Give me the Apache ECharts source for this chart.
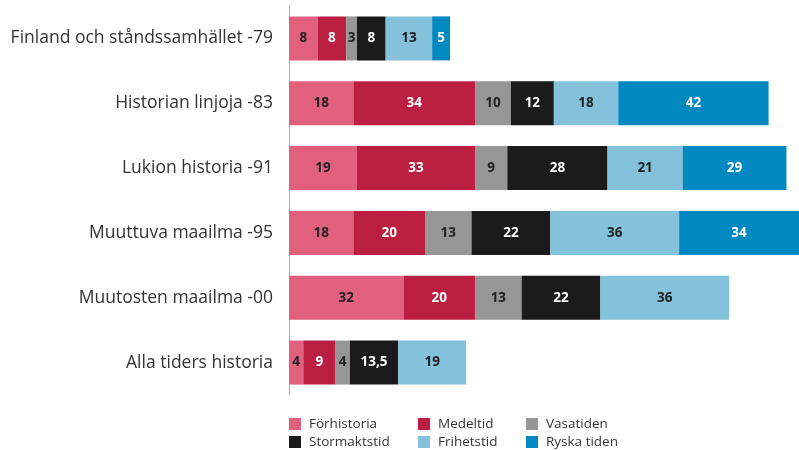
<!DOCTYPE html>
<html><head><meta charset="utf-8">
<script src="https://cdn.jsdelivr.net/npm/echarts@6/dist/echarts.min.js"></script>
<style>html,body{margin:0;padding:0;background:#fff}#c{width:799px;height:450px}</style>
</head><body><div id="c"></div>
<script>
const categories = ['Finland och ståndssamhället -79','Historian linjoja -83','Lukion historia -91','Muuttuva maailma -95','Muutosten maailma -00','Alla tiders historia'];
const seriesNames = ['Förhistoria','Medeltid','Vasatiden','Stormaktstid','Frihetstid','Ryska tiden'];
const forhistoria = [8,18,19,18,32,4];
const medeltid = [8,34,33,20,20,9];
const vasatiden = [3,10,9,13,13,4];
const stormaktstid = [8,12,28,22,22,13.5];
const frihetstid = [13,18,21,36,36,19];
const ryskaTiden = [5,42,29,34,null,null];
const values = [forhistoria,medeltid,vasatiden,stormaktstid,frihetstid,ryskaTiden];
const colors = ['#E0607E','#BA1F42','#959695','#1B1B1B','#83C2DA','#0088C1'];
const labelColors = ['#222','#fff','#222','#fff','#222','#fff'];
const legendPos = [[289,417],[418,417],[526,417],[289,435],[418,435],[526,435]];

const chart = echarts.init(document.getElementById('c'));
chart.setOption({
  animation:false,
  textStyle:{fontFamily:'Open Sans'},
  grid:{left:289,right:0,top:6,bottom:55},
  xAxis:{type:'value',min:0,max:142.5,show:false},
  yAxis:{type:'category',inverse:true,data:categories,
    axisLine:{show:true,lineStyle:{color:'#aaa',width:1}},
    axisTick:{show:false},
    axisLabel:{color:'#333',fontSize:17.5,margin:16,fontFamily:'Open Sans'}},
  legend: seriesNames.map((n,i)=>({data:[n],left:legendPos[i][0],top:legendPos[i][1],
    itemWidth:12,itemHeight:12,itemGap:0,icon:'rect',padding:0,
    textStyle:{color:'#333',fontSize:13.5,padding:[0,0,0,3]}})),
  series: seriesNames.map((n,i)=>({name:n,type:'bar',stack:'all',barWidth:44,
    data:values[i],itemStyle:{color:colors[i]},
    label:{show:true,position:'inside',color:labelColors[i],fontSize:13.5,fontWeight:'bold',
      formatter:p=>String(p.value).replace('.',',')}}))
});
</script></body></html>
